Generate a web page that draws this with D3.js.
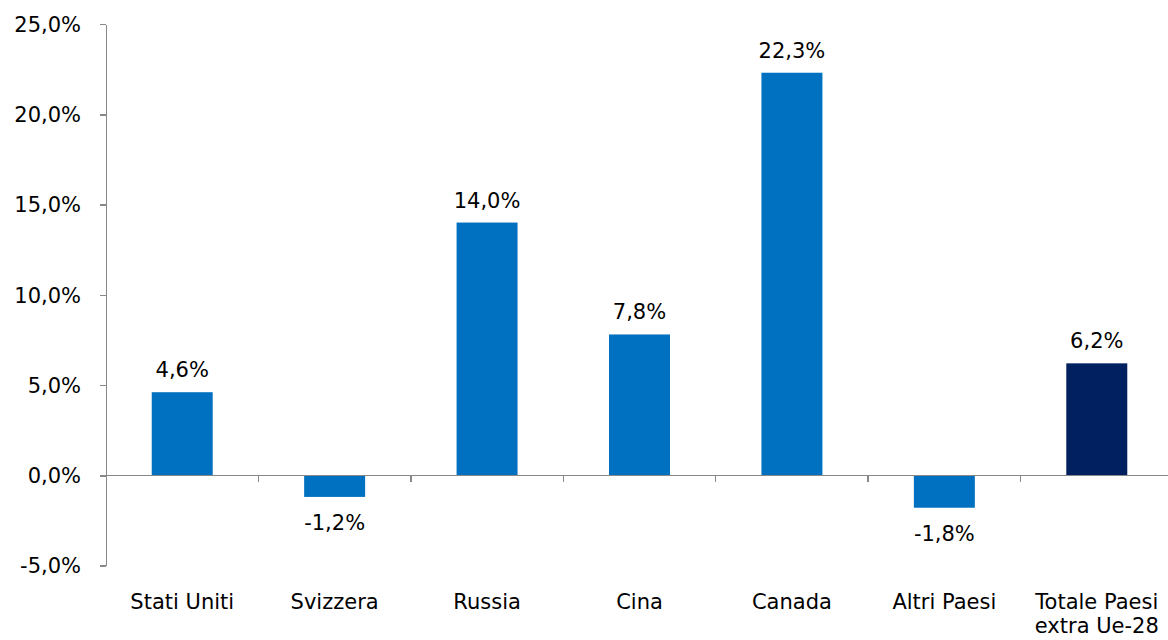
<!DOCTYPE html>
<html>
<head>
<meta charset="utf-8">
<script src="https://cdn.jsdelivr.net/npm/d3@7"></script>
<style>
  body { margin: 0; background: #fff; }
  text { font-family: "DejaVu Sans", Verdana, sans-serif; font-size: 21px; fill: #000; }
  .axis path, .axis line { stroke: #888; stroke-width: 1.5; shape-rendering: crispEdges; }
</style>
</head>
<body>
<svg width="1168" height="640"></svg>
<script>
var categories = ["Stati Uniti", "Svizzera", "Russia", "Cina", "Canada", "Altri Paesi", "Totale Paesi|extra Ue-28"];
var values = [4.6, -1.2, 14.0, 7.8, 22.3, -1.8, 6.2];
var yTicks = [-5, 0, 5, 10, 15, 20, 25];

var data = categories.map(function(c, i) { return { name: c, value: values[i], total: i === categories.length - 1 }; });

var svg = d3.select("svg");
var left = 106, right = 1173;

var xScale = d3.scaleBand().domain(categories).range([left, right]).paddingInner(0).paddingOuter(0);
var yScale = d3.scaleLinear().domain([-5, 25]).range([565.5, 24]);
var fmt = function(v) { return v.toFixed(1).replace(".", ",") + "%"; };

// bars
svg.selectAll(".bar")
    .data(data)
    .enter()
    .append("rect")
    .attr("class", "bar")
    .attr("x", (d) => xScale(d.name) + xScale.bandwidth() * 0.3)
    .attr("width", xScale.bandwidth() * 0.4)
    .attr("y", (d) => yScale(Math.max(0, d.value)))
    .attr("height", (d) => Math.abs(yScale(d.value) - yScale(0)))
    .attr("fill", (d) => d.total ? "#00205f" : "#0070c0");

// y axis
var yAxis = svg.append("g").attr("class", "axis")
    .attr("transform", "translate(" + left + ",0)")
    .call(d3.axisLeft(yScale).tickValues(yTicks).tickSize(6).tickPadding(19).tickSizeOuter(0).tickFormat(fmt));
yAxis.selectAll("text").attr("dy", "0.35em");

// x axis line at zero with tick marks between categories
var xAxis = svg.append("g").attr("class", "axis");
xAxis.append("line")
    .attr("x1", left).attr("x2", 1168)
    .attr("y1", yScale(0)).attr("y2", yScale(0));
xAxis.selectAll(".sep")
    .data(categories.slice(1))
    .enter()
    .append("line")
    .attr("x1", (d) => xScale(d)).attr("x2", (d) => xScale(d))
    .attr("y1", yScale(0)).attr("y2", yScale(0) + 7);

// category labels
svg.selectAll(".cat")
    .data(data)
    .enter()
    .append("text")
    .attr("class", "cat")
    .attr("text-anchor", "middle")
    .attr("x", (d) => xScale(d.name) + xScale.bandwidth() / 2)
    .attr("y", 609)
    .each(function(d) {
        var lines = d.name.split("|");
        var t = d3.select(this);
        lines.forEach(function(l, i) {
            t.append("tspan")
                .attr("x", xScale(d.name) + xScale.bandwidth() / 2)
                .attr("dy", i === 0 ? 0 : 24)
                .text(l);
        });
    });

// value labels
svg.selectAll(".val")
    .data(data)
    .enter()
    .append("text")
    .attr("class", "val")
    .attr("text-anchor", "middle")
    .attr("x", (d) => xScale(d.name) + xScale.bandwidth() / 2)
    .attr("y", (d) => d.value >= 0 ? yScale(d.value) - 15 : yScale(d.value) + 33)
    .text((d) => fmt(d.value));
</script>
</body>
</html>
